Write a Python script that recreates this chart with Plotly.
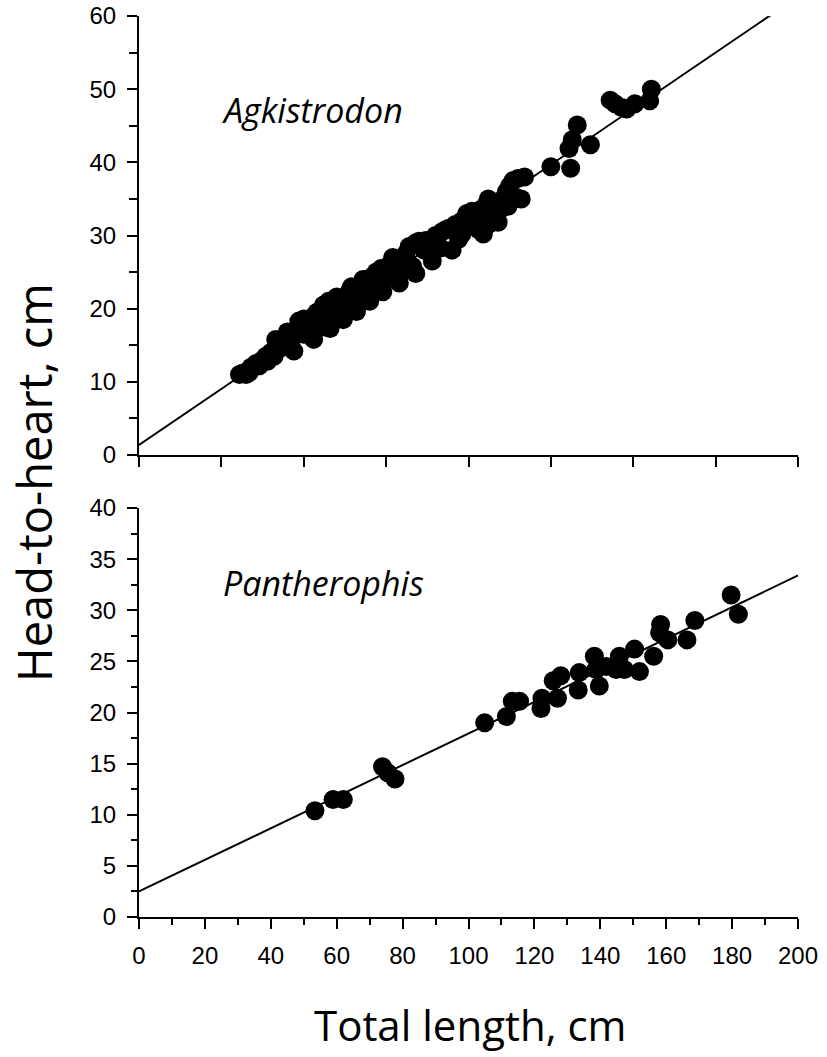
import plotly.graph_objects as go

# ---- Data ----
agk_x = [30.5, 31.5, 32.5, 33.5, 34, 35.5, 36.5, 37.5, 38.5, 39, 40, 41, 41.5, 42.5, 43.5,
         44.5, 45.5, 46.5, 47.5, 48.5, 49, 50, 51, 52, 52.5, 53.5, 55, 56, 56.5, 57.5, 58,
         59, 60.5, 61.5, 62, 63.5, 64.5, 65, 66.5, 67, 68, 69.5, 70.5, 71.5, 72, 73.5, 74,
         75, 76, 76.5, 77.5, 78.5, 79.5, 80.5, 81, 82, 83, 84, 85, 86.5, 88, 90, 91.5, 92,
         94, 96, 97, 98, 99.5, 100.5, 102, 103.5, 104.5, 105, 106, 107, 108, 109.5, 110.5,
         111.5, 112.5, 113.5, 114.5, 115, 116, 117, 125, 131, 130.5, 131.5, 133, 137, 143,
         144.5, 146.5, 148, 150.5, 155, 155.5,
         45, 47, 50, 53, 54, 58, 60, 62, 64, 66, 68, 70, 72, 74, 77, 79, 81, 84, 87, 89,
         93, 95, 98, 101, 103, 106, 109, 112]
agk_y = [11.0, 11.2, 11.0, 11.3, 12.0, 12.5, 12.2, 13.0, 13.5, 12.8, 14.0, 13.5, 15.8, 14.5, 15.2,
         15.5, 14.8, 16.0, 16.5, 18.3, 17.0, 16.5, 18.5, 17.5, 18.8, 17.8, 18.5, 20.5, 17.5, 21.0, 19.5,
         20.0, 20.3, 21.0, 20.0, 21.5, 23.0, 21.0, 22.5, 21.5, 22.8, 23.5, 24.3, 23.0, 24.0, 25.5, 23.8,
         25.0, 26.0, 24.5, 26.5, 25.5, 24.8, 27.0, 26.0, 28.5, 25.8, 29.0, 29.2, 28.0, 28.5, 30.0, 28.3, 30.5,
         31.0, 31.5, 29.5, 32.0, 33.0, 32.5, 31.5, 33.5, 30.2, 34.0, 31.5, 33.0, 32.0, 33.5, 35.0,
         36.0, 36.8, 37.5, 35.2, 37.8, 35.0, 38.0, 39.4, 39.2, 41.9, 43.1, 45.1, 42.4, 48.5,
         48.0, 47.5, 47.3, 48.0, 48.4, 50.0,
         16.8, 14.2, 18.6, 15.8, 19.5, 17.3, 21.6, 18.5, 22.5, 19.6, 24.0, 21.0, 25.0, 22.3, 27.0, 23.5,
         27.5, 24.8, 29.3, 26.5, 30.8, 28.0, 30.2, 33.3, 30.8, 35.0, 31.8, 34.0]

pan_x = [53.4, 58.9, 62.0, 73.9, 75.5, 77.7, 104.9, 111.5, 113.3, 115.5, 122.0, 122.3, 127.0,
         125.7, 128.0, 133.3, 133.6, 138.2, 139.7, 138.7, 141.8, 145.8, 144.8, 147.3, 150.4,
         151.9, 156.2, 158.3, 158.0, 160.5, 166.3, 168.7, 179.7, 181.9]
pan_y = [10.4, 11.5, 11.5, 14.7, 14.1, 13.5, 19.0, 19.6, 21.1, 21.1, 20.4, 21.4, 21.4,
         23.1, 23.6, 22.2, 23.9, 25.5, 22.6, 24.2, 24.5, 25.5, 24.2, 24.2, 26.2,
         24.0, 25.5, 28.6, 27.8, 27.1, 27.1, 29.0, 31.5, 29.6]

# regression fits: (intercept, slope)
agk_fit = (1.37, 0.3065)
pan_fit = (2.5, 0.1545)
fit_x_range = [0, 200]

x_ticks = [0, 20, 40, 60, 80, 100, 120, 140, 160, 180, 200]
top_x_ticks = [0, 25, 50, 75, 100, 125, 150, 175, 200]
top_y_ticks = [0, 10, 20, 30, 40, 50, 60]
bot_y_ticks = [0, 5, 10, 15, 20, 25, 30, 35, 40]

# ---- Figure ----
W, H = 827, 1057
fig = go.Figure()

fig.add_trace(go.Scatter(x=fit_x_range, y=[agk_fit[0] + agk_fit[1] * v for v in fit_x_range],
                         mode="lines", line=dict(color="black", width=2), xaxis="x", yaxis="y",
                         showlegend=False, hoverinfo="skip"))
fig.add_trace(go.Scatter(x=agk_x, y=agk_y, mode="markers",
                         marker=dict(color="black", size=19, line=dict(width=0)),
                         xaxis="x", yaxis="y", showlegend=False, cliponaxis=False))
fig.add_trace(go.Scatter(x=fit_x_range, y=[pan_fit[0] + pan_fit[1] * v for v in fit_x_range],
                         mode="lines", line=dict(color="black", width=2), xaxis="x2", yaxis="y2",
                         showlegend=False, hoverinfo="skip"))
fig.add_trace(go.Scatter(x=pan_x, y=pan_y, mode="markers",
                         marker=dict(color="black", size=19, line=dict(width=0)),
                         xaxis="x2", yaxis="y2", showlegend=False, cliponaxis=False))

x0, x1 = 139 / W, 798 / W
tick_font = dict(family="Liberation Sans, Arial, sans-serif", size=24, color="black")

common_axis = dict(showgrid=False, zeroline=False, showline=True, linecolor="black", linewidth=2,
                   ticks="outside", tickcolor="black", tickwidth=2, ticklen=10, tickfont=tick_font,
                   mirror=False, automargin=False)

fig.update_layout(
    template="none",
    width=W, height=H, margin=dict(l=0, r=0, t=0, b=0, pad=0),
    paper_bgcolor="white", plot_bgcolor="white",
    xaxis=dict(domain=[x0, x1], range=[0, 200], anchor="y", tickvals=top_x_ticks,
               showticklabels=False, **common_axis),
    yaxis=dict(domain=[(H - 455) / H, (H - 16) / H], range=[0, 60], anchor="x",
               tickvals=top_y_ticks, ticktext=[str(v) for v in top_y_ticks],
               minor=dict(dtick=5, tick0=0, ticks="outside", ticklen=8, tickwidth=2, tickcolor="black",
                          showgrid=False),
               ticklabelstandoff=6, **common_axis),
    xaxis2=dict(domain=[x0, x1], range=[0, 200], anchor="y2",
                tickvals=x_ticks, ticktext=[str(v) for v in x_ticks],
                minor=dict(dtick=10, tick0=0, ticks="outside", ticklen=6, tickwidth=2, tickcolor="black",
                           showgrid=False),
                ticklabelstandoff=6, **common_axis),
    yaxis2=dict(domain=[(H - 917) / H, (H - 508) / H], range=[0, 40], anchor="x2",
                tickvals=bot_y_ticks, ticktext=[str(v) for v in bot_y_ticks],
                minor=dict(dtick=2.5, tick0=0, ticks="outside", ticklen=6, tickwidth=2, tickcolor="black",
                           showgrid=False),
                ticklabelstandoff=6, **common_axis),
    font=dict(family="Open Sans, sans-serif", color="black"),
)

fig.add_annotation(text="Total length, cm", x=470 / W, y=(H - 1024) / H, xref="paper", yref="paper",
                   showarrow=False, font=dict(family="Open Sans, sans-serif", size=42, color="black"),
                   xanchor="center", yanchor="middle")
fig.add_annotation(text="Head-to-heart, cm", x=34 / W, y=(H - 483) / H, xref="paper", yref="paper",
                   showarrow=False, font=dict(family="Open Sans, sans-serif", size=47, color="black"),
                   textangle=-90, xanchor="center", yanchor="middle")

species_font = dict(family="Open Sans, sans-serif", size=34, color="black")
fig.add_annotation(text="<i>Agkistrodon</i>", x=312 / W, y=(H - 110) / H, xref="paper", yref="paper",
                   showarrow=False, font=species_font, xanchor="center", yanchor="middle")
fig.add_annotation(text="<i>Pantherophis</i>", x=323 / W, y=(H - 583) / H, xref="paper", yref="paper",
                   showarrow=False, font=species_font, xanchor="center", yanchor="middle")

fig.write_html("out.html")
